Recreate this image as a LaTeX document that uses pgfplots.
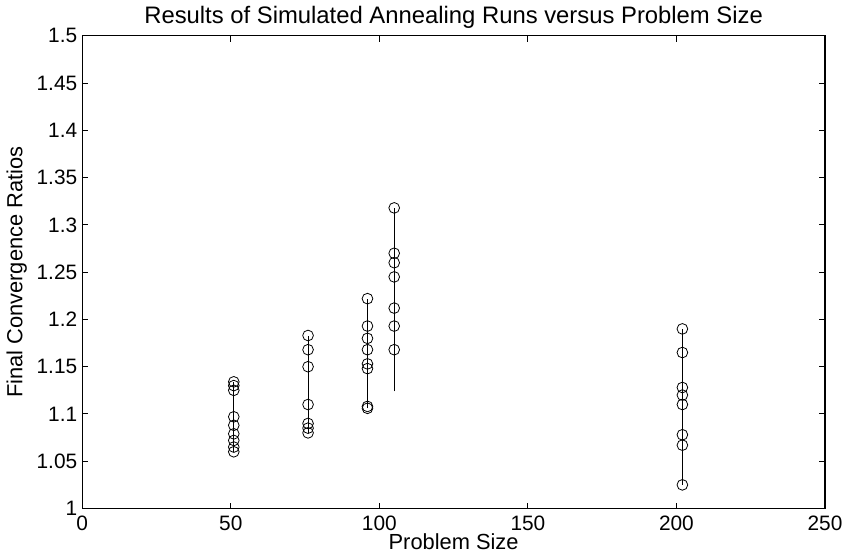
\documentclass[border=0pt]{standalone}
\usepackage{fontspec}
\setmainfont{Liberation Sans}
\usepackage{pgfplots}
\pgfplotsset{compat=1.18}
\begin{document}
\begin{tikzpicture}
\begin{axis}[
  scale only axis,
  width=374pt, height=238pt,
  xmin=0, xmax=250, ymin=1, ymax=1.5,
  xtick={0,50,...,250},
  ytick={1,1.05,...,1.5},
  yticklabels={1,1.05,1.1,1.15,1.2,1.25,1.3,1.35,1.4,1.45,1.5},
  /pgf/number format/assume math mode=true,
  tick align=inside, tick pos=both,
  major tick length=3pt,
  axis line style={line width=0.6pt},
  every tick/.style={black, line width=0.5pt},
  tick label style={font=\fontsize{10.5}{12}\selectfont},
  yticklabel style={xshift=1pt},
  xticklabel style={yshift=0pt},
  label style={font=\fontsize{11}{12}\selectfont},
  title style={font=\fontsize{12}{13}\selectfont, yshift=-6pt},
  title={Results of Simulated Annealing Runs versus Problem Size},
  xlabel={Problem Size},
  ylabel={Final Convergence Ratios},
  xlabel style={yshift=5pt},
  ylabel style={yshift=-2pt},
  clip=false,
]
\addplot[black, line width=0.5pt, mark=o, mark size=2.7pt, mark options={line width=0.4pt}] coordinates {
 (51,1.060) (51,1.065) (51,1.072) (51,1.079) (51,1.088) (51,1.097) (51,1.125) (51,1.130) (51,1.134)
};
\addplot[black, line width=0.5pt, mark=o, mark size=2.7pt, mark options={line width=0.4pt}] coordinates {
 (76,1.080) (76,1.085) (76,1.090) (76,1.110) (76,1.150) (76,1.168) (76,1.183)
};
\addplot[black, line width=0.5pt, mark=o, mark size=2.7pt, mark options={line width=0.4pt}] coordinates {
 (96,1.106) (96,1.108) (96,1.148) (96,1.153) (96,1.168) (96,1.180) (96,1.193) (96,1.222)
};
\addplot[black, line width=0.5pt, mark=o, mark size=2.7pt, mark options={line width=0.4pt}] coordinates {
 (105,1.168) (105,1.193) (105,1.212) (105,1.245) (105,1.260) (105,1.270) (105,1.318)
};
\addplot[black, line width=0.5pt] coordinates {(105,1.124) (105,1.318)};
\addplot[black, line width=0.5pt, mark=o, mark size=2.7pt, mark options={line width=0.4pt}] coordinates {
 (202,1.025) (202,1.067) (202,1.078) (202,1.110) (202,1.120) (202,1.128) (202,1.165) (202,1.190)
};
\end{axis}
\end{tikzpicture}
\end{document}
